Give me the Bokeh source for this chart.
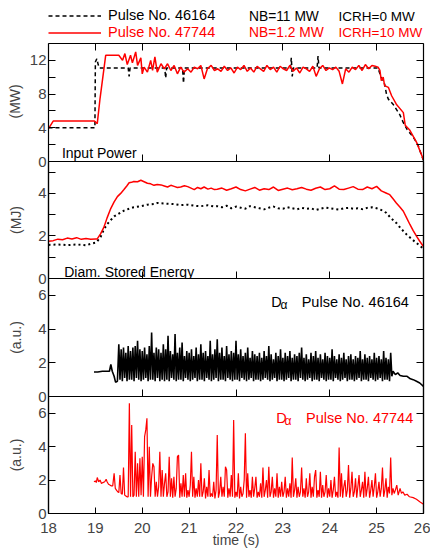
import numpy as np
from bokeh.plotting import figure
from bokeh.models import Range1d, LinearAxis, FixedTicker, Label, Legend, LegendItem, Title
from bokeh.layouts import column
from bokeh.embed import file_html
from bokeh.resources import INLINE

FONT = "Liberation Sans"
RED = "#ff0000"

# ---------------- data ----------------
x_ticks = [18, 19, 20, 21, 22, 23, 24, 25, 26]
x_ticks_even = [18, 20, 22, 24, 26]

# Input power, pulse 46164 (dashed black)
pow_b_t = [18.0, 18.99, 19.0, 19.03, 19.06, 19.08, 19.70, 19.72, 19.74, 20.48, 20.50, 20.52,
           20.86, 20.88, 20.90, 23.16, 23.18, 23.20, 23.22, 23.73, 23.75, 23.77, 25.03, 25.07,
           25.14, 25.17, 25.21, 25.25, 25.35, 25.49, 25.57, 25.65, 25.78, 25.88, 26.0]
pow_b_v = [4.0, 4.0, 11.8, 12.2, 11.5, 11.1, 11.1, 10.1, 11.1, 11.1, 9.9, 11.1,
           11.1, 9.3, 11.1, 11.1, 12.3, 10.1, 11.1, 11.1, 12.5, 11.1, 11.1, 10.4,
           9.4, 9.2, 8.0, 7.4, 6.8, 5.6, 4.6, 3.8, 2.9, 2.0, 0.1]

# Input power, pulse 47744 (red)
pow_r_t1 = [18.0, 18.1, 18.98, 19.04, 19.1, 19.22, 19.5, 19.58, 19.63, 19.68, 19.75, 19.79,
            19.86, 19.90, 19.97, 20.0, 20.04, 20.11, 20.18, 20.22, 20.27, 20.32, 20.40, 20.47,
            20.54, 20.61, 20.68, 20.75, 20.82, 20.89, 20.97, 21.04, 21.11, 21.18, 21.25, 21.32,
            21.39, 21.47, 21.54]
pow_r_v1 = [3.9, 4.8, 4.8, 4.5, 7.5, 12.6, 12.6, 12.0, 12.8, 11.5, 12.6, 11.7,
            13.0, 11.4, 12.3, 10.4, 11.2, 10.6, 12.0, 10.8, 12.4, 10.6, 11.6, 11.0,
            11.6, 10.8, 11.4, 10.4, 11.2, 10.6, 11.0, 10.6, 11.2, 11.0, 11.4, 9.8,
            11.0, 11.4, 10.8]
pow_r_v2 = [11.0, 10.7, 11.3, 10.8, 11.1, 10.5, 11.2, 10.9, 11.4, 10.7,
            11.1, 10.6, 11.3, 11.0, 10.7, 11.4, 10.9, 11.2, 10.6, 11.3,
            11.0, 10.8, 11.4, 10.7, 11.1, 10.5, 11.2, 11.0, 10.7, 11.3,
            10.1, 11.0, 11.4, 10.8, 11.1, 10.9, 11.2, 10.7, 9.2, 11.0,
            10.6, 11.2, 10.9, 11.4, 10.8, 11.5, 11.0, 11.4, 11.3]   # every 0.07 s from 21.61
pow_r_t3 = [25.03, 25.07, 25.10, 25.14, 25.17, 25.25, 25.32, 25.42, 25.57, 25.61, 25.71, 25.85, 26.0]
pow_r_v3 = [11.2, 10.8, 9.6, 10.0, 9.0, 8.8, 7.8, 6.8, 5.8, 4.3, 3.7, 2.3, 0.2]

# Diamagnetic stored energy, pulse 47744 (red)
en_r_t1 = [18.0, 18.1, 18.2, 18.3, 18.4, 18.5, 18.6, 18.7, 18.8, 18.9,
           19.0, 19.04, 19.11, 19.18, 19.25, 19.33, 19.4, 19.47, 19.54, 19.61,
           19.67, 19.72, 19.77, 19.82, 19.9, 19.97,
           20.04, 20.11, 20.18, 20.25, 20.32, 20.40, 20.47, 20.54, 20.61, 20.68, 20.75, 20.82, 20.9, 20.97,
           21.04, 21.11, 21.18, 21.25, 21.32, 21.4, 21.47, 21.54]
en_r_v1 = [1.75, 1.78, 1.85, 1.82, 1.9, 1.86, 1.92, 1.84, 1.88, 1.85,
           1.86, 1.86, 2.1, 2.4, 2.85, 3.3, 3.6, 3.85, 4.0, 4.18,
           4.35, 4.5, 4.52, 4.56, 4.55, 4.62,
           4.55, 4.48, 4.45, 4.38, 4.42, 4.40, 4.35, 4.30, 4.38, 4.33, 4.28, 4.30, 4.36, 4.32,
           4.25, 4.18, 4.28, 4.22, 4.30, 4.20, 4.25, 4.18]
en_r_v2 = [4.20, 4.25, 4.15, 4.22, 4.30, 4.18, 4.12, 4.20, 4.28, 4.15,
           4.22, 4.18, 4.30, 4.14, 4.20, 4.25, 4.17, 4.22, 4.28, 4.20,
           4.15, 4.24, 4.30, 4.18, 4.22, 4.35, 4.20, 4.18, 4.25, 4.32,
           4.20, 4.18, 4.30, 4.22, 4.33]   # every 0.1 s from 21.6
en_r_t3 = [25.1, 25.2, 25.28, 25.35, 25.42, 25.5, 25.57, 25.64, 25.71, 25.78, 25.85, 25.92, 26.0]
en_r_v3 = [4.12, 4.02, 3.94, 3.75, 3.55, 3.35, 3.16, 2.85, 2.54, 2.25, 1.99, 1.75, 1.5]

# Diamagnetic stored energy, pulse 46164 (dotted black)
en_b_t1 = [18.0, 18.2, 18.4, 18.6, 18.8, 18.9,
           19.0, 19.04, 19.11, 19.18, 19.25, 19.33, 19.4, 19.5, 19.61, 19.72, 19.82, 19.97,
           20.11, 20.25, 20.32, 20.5, 20.68, 20.82, 20.97,
           21.11, 21.25, 21.4, 21.54]
en_b_v1 = [1.58, 1.60, 1.57, 1.60, 1.56, 1.63,
           1.68, 1.75, 1.95, 2.30, 2.55, 2.75, 2.92, 3.05, 3.19, 3.28, 3.35, 3.40,
           3.47, 3.50, 3.55, 3.52, 3.50, 3.45, 3.47,
           3.42, 3.40, 3.44, 3.38]
en_b_v2 = [3.40, 3.35, 3.42, 3.30, 3.38, 3.33, 3.28, 3.40, 3.35, 3.30,
           3.25, 3.33, 3.38, 3.30, 3.28, 3.35, 3.30, 3.25, 3.32, 3.28,
           3.30, 3.22, 3.28, 3.33, 3.30, 3.27, 3.24, 3.30, 3.32, 3.28,
           3.30, 3.26, 3.32, 3.35, 3.30]   # every 0.1 s from 21.6
en_b_t3 = [25.1, 25.21, 25.3, 25.42, 25.53, 25.64, 25.75, 25.85, 25.93, 26.0]
en_b_v3 = [3.22, 3.08, 2.85, 2.61, 2.32, 2.07, 1.85, 1.67, 1.52, 1.40]

# D-alpha, pulse 46164 (black)
da_b_t1 = [18.97, 19.05, 19.15, 19.25, 19.30, 19.33, 19.36, 19.40, 19.43, 19.47]
da_b_v1 = [1.45, 1.45, 1.5, 1.5, 1.5, 1.9, 1.5, 1.2, 0.85, 0.9]
da_b_v2 = [  # every 0.025 s from 19.5
    3.1, 1.0, 2.8, 0.9, 2.9, 1.1, 2.6, 0.9, 3.0, 1.0, 2.7, 1.0, 2.9, 0.9, 3.0, 1.1, 3.3, 1.0, 2.8, 0.9,
    2.7, 1.0, 2.9, 1.1, 2.5, 0.9, 3.0, 1.0, 3.8, 1.0, 2.6, 0.9, 2.9, 1.1, 2.8, 0.9, 2.6, 1.0, 3.1, 0.9,
    2.8, 1.0, 3.6, 0.9, 2.7, 1.1, 2.5, 1.0, 3.7, 0.9, 2.6, 1.0, 2.9, 1.0, 3.2, 0.9, 2.4, 1.1, 2.7, 1.0,
    2.6, 0.9, 2.8, 1.0, 2.4, 1.1, 2.9, 0.9, 2.5, 1.0, 3.1, 1.0, 2.6, 0.9, 2.7, 1.1, 2.4, 1.0, 3.3, 0.9,
    2.5, 1.0, 2.8, 1.1, 3.4, 0.9, 2.6, 1.0, 2.9, 1.0, 2.4, 0.9, 3.0, 1.1, 2.5, 1.0, 2.7, 0.9, 2.6, 1.0,
    3.3, 1.0, 2.5, 0.9, 2.8, 1.1, 2.4, 1.0, 2.6, 0.9, 2.9, 1.0, 2.3, 1.1, 2.7, 0.9, 2.5, 1.0, 2.4, 1.0,
    2.6, 0.9, 2.3, 1.0, 2.7, 1.1, 2.4, 1.0, 3.0, 0.9, 2.5, 1.0, 2.2, 1.1, 2.6, 0.9, 2.4, 1.0, 2.8, 1.0,
    2.3, 0.9, 2.6, 1.0, 2.4, 1.1, 2.7, 0.9, 2.3, 1.0, 2.5, 1.0, 2.4, 0.9, 2.6, 1.1, 2.9, 1.0, 2.3, 0.9,
    2.5, 1.0, 2.2, 1.1, 2.6, 0.9, 2.4, 1.0, 2.7, 1.0, 2.3, 0.9, 2.5, 1.1, 2.2, 1.0, 2.6, 0.9, 2.4, 1.0,
    2.3, 1.0, 2.8, 0.9, 2.4, 1.1, 2.2, 1.0, 2.5, 0.9, 2.3, 1.0, 2.6, 1.1, 2.2, 0.9, 2.4, 1.0, 2.5, 1.0,
    2.2, 0.9, 2.4, 1.0, 2.3, 1.1, 2.7, 0.9, 2.2, 1.0, 2.5, 1.0, 2.3, 0.9, 2.4, 1.1, 2.2, 1.0, 2.6, 0.9,
    2.3, 1.0, 2.4, 1.1, 2.2, 0.9, 2.7, 1.0, 2.3, 1.0, 2.2, 0.9, 2.6, 1.2]
da_b_t3 = [25.35, 25.40, 25.45, 25.50, 25.57, 25.65, 25.72, 25.78, 25.85, 25.92, 26.0]
da_b_v3 = [1.5, 1.3, 1.4, 1.25, 1.2, 1.2, 1.05, 1.0, 0.9, 0.8, 0.6]

# D-alpha, pulse 47744 (red)
da_r_t1 = [18.97, 19.0, 19.02, 19.04, 19.07, 19.1, 19.13, 19.16, 19.2, 19.23, 19.25, 19.28, 19.31, 19.34, 19.37]
da_r_v1 = [1.9, 1.95, 1.85, 2.15, 1.9, 2.0, 1.8, 1.85, 1.9, 2.05, 1.9, 1.75, 1.7, 1.65, 1.65]
da_r_v2 = [  # every 0.025 s from 19.4
    2.4, 1.5, 1.4, 1.3, 1.25, 2.3, 1.2, 1.15, 2.75, 1.1, 1.05, 1.0, 1.0, 6.6, 1.0, 5.3, 1.0, 1.1, 3.7, 1.0,
    3.0, 1.0, 3.3, 1.1, 3.4, 1.0, 4.6, 5.0, 5.7, 1.0, 4.0, 1.0, 2.2, 3.0, 2.8, 1.0, 1.9, 1.0, 1.6, 3.7,
    1.0, 2.6, 1.0, 1.8, 2.4, 1.0, 1.3, 3.4, 1.0, 2.1, 0.95, 2.2, 1.0, 1.5, 3.4, 3.5, 0.95, 1.8, 1.0, 2.3,
    1.0, 2.4, 0.95, 1.4, 1.0, 1.7, 3.7, 1.0, 2.2, 0.95, 1.5, 1.0, 2.0, 1.0, 3.0, 1.0, 1.3, 2.1, 0.9, 1.6,
    1.0, 2.6, 1.0, 1.2, 1.0, 1.9, 0.9, 1.4, 4.7, 0.95, 1.3, 2.2, 1.0, 1.6, 1.0, 2.8, 2.6, 0.95, 1.5, 1.0,
    2.3, 1.0, 5.6, 0.95, 1.3, 1.0, 2.4, 0.9, 1.6, 1.0, 1.2, 2.0, 4.8, 0.95, 2.4, 1.0, 1.4, 0.95, 2.2, 1.0,
    1.5, 2.2, 0.95, 1.3, 1.0, 1.8, 0.95, 2.75, 1.0, 1.4, 2.0, 0.95, 2.8, 1.0, 1.3, 2.2, 0.95, 1.5, 1.0, 2.4,
    0.95, 1.6, 1.0, 1.9, 1.0, 1.3, 2.2, 0.95, 1.5, 1.0, 1.8, 0.95, 3.35, 1.0, 1.4, 2.1, 0.95, 1.6, 1.0, 1.3,
    2.75, 1.0, 1.5, 0.95, 2.1, 1.0, 1.3, 2.4, 0.95, 1.6, 1.0, 2.2, 2.6, 0.95, 1.4, 1.0, 2.5, 0.95, 1.7, 1.0,
    1.3, 2.3, 0.95, 1.5, 1.0, 2.0, 0.95, 1.4, 2.2, 1.0, 1.3, 0.95, 3.95, 1.0, 2.4, 0.95, 1.6, 2.0, 1.0, 1.4,
    2.9, 0.95, 1.5, 2.5, 1.0, 1.3, 2.1, 0.95, 1.6, 2.3, 1.0, 1.4, 1.9, 0.95, 2.5, 1.0, 1.5, 2.2, 0.95, 1.4,
    2.0, 1.0, 1.6, 2.4, 0.95, 1.3, 1.9, 1.0, 1.5, 2.75, 1.0, 1.4, 2.1, 0.95, 1.6, 1.2, 3.35, 1.1, 1.5, 1.2]
da_r_t3 = [25.40, 25.43, 25.46, 25.5, 25.53, 25.56, 25.6, 25.65, 25.7, 25.78, 25.85, 25.92, 26.0]
da_r_v3 = [1.4, 1.7, 1.1, 1.5, 1.2, 1.3, 1.1, 1.15, 1.0, 0.95, 0.85, 0.7, 0.55]


def grid_times(start, step, n):
    return list(np.round(start + step * np.arange(n), 3))


pow_r_t = pow_r_t1 + grid_times(21.61, 0.07, len(pow_r_v2)) + pow_r_t3
pow_r_v = pow_r_v1 + pow_r_v2 + pow_r_v3
en_r_t = en_r_t1 + grid_times(21.6, 0.1, len(en_r_v2)) + en_r_t3
en_r_v = en_r_v1 + en_r_v2 + en_r_v3
en_b_t = en_b_t1 + grid_times(21.6, 0.1, len(en_b_v2)) + en_b_t3
en_b_v = en_b_v1 + en_b_v2 + en_b_v3
da_b_t = da_b_t1 + grid_times(19.5, 0.025, len(da_b_v2)) + da_b_t3
da_b_v = da_b_v1 + da_b_v2 + da_b_v3
da_r_t = da_r_t1 + grid_times(19.4, 0.025, len(da_r_v2)) + da_r_t3
da_r_v = da_r_v1 + da_r_v2 + da_r_v3

# ---------------- figures ----------------
xr = Range1d(18, 26)
LW = 1.2
OVER = 9      # overlap so that the "0" label at each panel boundary is not cut
HEAD = 43     # legend strip height above the first panel


def tick_axis(ticks, tick_len=7, **kw):
    # an axis that only draws (label-less) minor ticks
    return LinearAxis(ticker=FixedTicker(ticks=[], minor_ticks=ticks),
                      minor_tick_in=tick_len, minor_tick_out=0,
                      major_tick_in=0, major_tick_out=0, major_label_standoff=0,
                      axis_line_width=LW, minor_tick_line_width=1, **kw)


def make_panel(frame_h, yr, yticks, yminor, ylabel, label_standoff, bottom=OVER, first=False):
    y0, y1 = yr
    y_end = y1 + (y1 - y0) * HEAD / frame_h if first else y1
    p = figure(frame_width=375, frame_height=frame_h + (HEAD if first else 0),
               x_range=xr, y_range=Range1d(y0, y_end),
               output_backend="svg", toolbar_location=None,
               min_border_left=47, min_border_right=8,
               min_border_top=0, min_border_bottom=bottom,
               x_axis_location=None, y_axis_location=None)
    if first:
        p.outline_line_color = None
    else:
        p.margin = (-OVER, 0, 0, 0)
        p.border_fill_alpha = 0
        p.outline_line_color = "black"
        p.outline_line_width = LW
    p.grid.visible = False
    ya = LinearAxis(ticker=FixedTicker(ticks=yticks, minor_ticks=yminor), bounds=(y0, y1),
                    axis_label=None if first else ylabel, axis_label_text_font=FONT,
                    axis_label_text_font_size="14px", axis_label_text_font_style="normal",
                    axis_label_standoff=label_standoff,
                    major_label_text_font=FONT, major_label_text_font_size="15px",
                    major_label_standoff=2,
                    major_tick_in=7, major_tick_out=0, minor_tick_in=7, minor_tick_out=0,
                    axis_line_width=LW)
    p.add_layout(ya, "left")
    p.add_layout(tick_axis(yticks + yminor, bounds=(y0, y1)), "right")
    if first:
        # axis title centred on the box part of the frame, not on the legend strip
        p.add_layout(Title(text=ylabel, align="center", offset=0, standoff=8,
                           text_font=FONT, text_font_size="14px", text_font_style="normal"),
                     "left")
    return p


def screen_label(p, x, y, text, size="14.5px", color="black", align="left", baseline="alphabetic"):
    p.add_layout(Label(x=x, y=y, x_units="screen", y_units="screen", text=text,
                       text_font=FONT, text_font_size=size, text_color=color,
                       text_align=align, text_baseline=baseline))


# Panel 1: input power (its frame also holds the legend strip above the box)
P1H = 118
p1 = make_panel(P1H, (0, 14), [0, 4, 8, 12], [2, 6, 10, 14], "(MW)", 3, first=True)
p1.left[-1].align = "left"
p1.left[-1].offset = 43
p1.add_layout(tick_axis(x_ticks, fixed_location=14), "above")
p1.add_layout(tick_axis(x_ticks_even), "below")
r_pb = p1.line(pow_b_t, pow_b_v, line_color="black", line_width=1.5, line_dash="4 3")
r_pr = p1.line(pow_r_t, pow_r_v, line_color=RED, line_width=1.5)
for rend, lab, col, ly in [(r_pb, "Pulse No. 46164", "black", P1H + 19.5),
                           (r_pr, "Pulse No. 47744", RED, P1H + 2.5)]:
    p1.add_layout(Legend(items=[LegendItem(label=lab, renderers=[rend])], location=(0, ly),
                         padding=0, margin=0, spacing=0, glyph_width=53, glyph_height=17,
                         label_height=17, label_standoff=7, label_text_font=FONT,
                         label_text_font_size="14.5px", label_text_color=col,
                         border_line_alpha=0, background_fill_alpha=0))
screen_label(p1, 200.5, P1H + 27.5, "NB=11 MW", size="13.8px", baseline="middle")
screen_label(p1, 290, P1H + 27.5, "ICRH=0 MW", size="13.5px", baseline="middle")
screen_label(p1, 200.5, P1H + 11, "NB=1.2 MW", size="13.8px", color=RED, baseline="middle")
screen_label(p1, 290, P1H + 11, "ICRH=10 MW", size="13.5px", color=RED, baseline="middle")
screen_label(p1, 13.4, 9, "Input Power", size="14px")

# Panel 2: stored energy
p2 = make_panel(117, (0, 5.5), [0, 2, 4], [1, 3, 5], "(MJ)", 11)
p2.add_layout(tick_axis(x_ticks_even), "below")
p2.line(en_b_t, en_b_v, line_color="black", line_width=2, line_dash="2 3")
p2.line(en_r_t, en_r_v, line_color=RED, line_width=1.5)
screen_label(p2, 15.7, 7, "Diam. Stored Energy", size="14px")

# Panel 3: D-alpha 46164
p3 = make_panel(118, (0, 7), [0, 2, 4, 6], [], "(a.u.)", 11)
p3.add_layout(tick_axis(x_ticks_even), "below")
p3.line(da_b_t, da_b_v, line_color="black", line_width=1.6)
screen_label(p3, 222.7, 94.3, "D")
screen_label(p3, 232.0, 91.3, "α", size="12px")
screen_label(p3, 360.4, 94.3, "Pulse No. 46164", align="right")

# Panel 4: D-alpha 47744
p4 = make_panel(117, (0, 7), [0, 2, 4, 6], [], "(a.u.)", 11, bottom=37)
xa = LinearAxis(ticker=FixedTicker(ticks=x_ticks), axis_label="time (s)",
                axis_label_text_font=FONT, axis_label_text_font_size="14px",
                axis_label_text_font_style="normal", axis_label_standoff=-4,
                major_label_text_font=FONT, major_label_text_font_size="15px",
                major_label_standoff=9, major_tick_in=6, major_tick_out=0,
                minor_tick_in=0, minor_tick_out=0, axis_line_width=LW)
p4.add_layout(xa, "below")
p4.line(da_r_t, da_r_v, line_color=RED, line_width=1.2)
screen_label(p4, 227.7, 96, "D", color=RED)
screen_label(p4, 236.0, 93, "α", size="12px", color=RED)
screen_label(p4, 364.7, 96, "Pulse No. 47744", color=RED, align="right")

layout = column(p1, p2, p3, p4, spacing=0)
open("out.html", "w").write(file_html(layout, INLINE))
